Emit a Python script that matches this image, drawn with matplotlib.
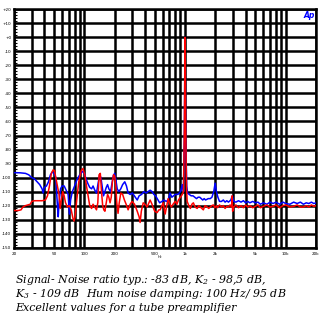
import matplotlib
matplotlib.use("Agg")
import matplotlib.pyplot as plt
from matplotlib.ticker import FixedLocator, MultipleLocator, NullFormatter

plt.rcParams['mathtext.fontset'] = 'custom'
plt.rcParams['mathtext.it'] = 'DejaVu Serif:italic'
plt.rcParams['mathtext.rm'] = 'DejaVu Serif:italic'
plt.rcParams['mathtext.default'] = 'it'

# ---- data ----
blue_f = [20, 23, 26, 28, 30, 32, 34, 36, 38, 39, 40, 42, 44, 46, 48, 50, 52, 54, 55, 56,
          58, 60, 63, 66, 69, 71, 73, 76, 80, 85, 90, 96, 100, 104, 108, 113, 118, 122, 127,
          132, 137, 142, 146, 150, 155, 160, 165, 170, 175, 182, 188, 194, 200, 206, 212,
          220, 230, 240, 252, 262, 272, 285, 300, 320, 335, 350, 370, 390, 410, 430, 450,
          470, 490, 510, 530, 560, 590, 620, 650, 680, 710, 740, 770, 800, 850, 900, 940,
          965, 985, 995, 1000, 1005, 1015, 1040, 1060, 1100, 1150, 1200, 1250, 1300, 1350,
          1400, 1450, 1500, 1550, 1600, 1700, 1780, 1850, 1930, 1990, 2050, 2120, 2200,
          2300, 2400, 2500, 2600, 2700, 2850, 2950, 3050, 3200, 3400, 3600, 3800, 4000,
          4200, 4400, 4700, 5000, 5300, 5600, 6000, 6500, 7000, 7500, 8000, 8700, 9400,
          10000, 11000, 12000, 13000, 14000, 15000, 16000, 17000, 18000, 19000, 20000]
blue_db = [-96.5, -96.6, -97, -98, -100, -101, -103, -105, -108, -111, -107, -106, -103, -98,
           -96, -97, -100, -120, -128, -118, -108, -106, -106, -109, -112, -126, -116, -110,
           -106, -101, -98, -95.5, -97, -101, -104, -107, -108, -106, -109, -111, -104, -98,
           -100, -106, -113, -110, -107, -105, -108, -110, -104, -98.5, -97, -102, -108,
           -110, -108, -105, -103, -106, -111, -112, -111, -114, -116, -113, -112, -110,
           -111, -110, -109, -110, -112, -113, -115, -118, -117, -116, -117, -116, -111,
           -114, -113, -112, -112, -110, -105, -110, -70, -20, 0, -20, -70, -106, -111,
           -112, -113, -113, -114, -115, -114, -114, -115, -116, -115, -116, -115, -115,
           -114, -110, -104, -110, -114, -117, -117, -116, -117.5, -116.5, -117.5, -116, -113,
           -117, -117.5, -116.5, -117.5, -116.5, -118, -117, -118, -117, -118, -117.5, -119,
           -118, -119, -117.5, -118.5, -117.5, -119, -117.5, -118.5, -119, -117.5, -118.5,
           -117.5, -119, -118, -118.5, -117.5, -118.5, -118]

red_f = [20, 22, 23.5, 24.5, 26, 27.5, 29, 30, 32, 35, 38, 41, 43, 45, 47, 49, 50.5, 52, 54,
         56, 57.5, 59, 61, 63, 65, 68, 71, 74, 77, 79, 81, 84, 88, 93, 97, 101, 105, 109,
         113, 118, 122, 127, 132, 136, 140, 144, 148, 152, 156, 160, 165, 170, 175, 180,
         185, 190, 195, 200, 205, 210, 216, 222, 230, 240, 250, 260, 272, 285, 298, 315,
         335, 350, 358, 368, 384, 400, 420, 450, 470, 480, 500, 528, 550, 566, 590, 607,
         620, 635, 650, 680, 700, 730, 760, 800, 830, 860, 900, 940, 965, 985, 995, 1000,
         1005, 1015, 1035, 1050, 1090, 1130, 1170, 1210, 1260, 1320, 1370, 1420, 1470,
         1520, 1580, 1660, 1720, 1780, 1850, 1910, 1980, 2050, 2100, 2200, 2300, 2400,
         2500, 2600, 2700, 2800, 2900, 2940, 2970, 3050, 3200, 3400, 3600, 3800, 4000,
         4200, 4400, 4700, 5000, 5300, 5600, 6000, 6500, 7000, 7500, 8000, 8700, 9400,
         10000, 11000, 12000, 13000, 14000, 15000, 16000, 17000, 18000, 19000, 20000]
red_db = [-123.5, -123.5, -123, -121, -120, -119.5, -119, -117, -116.5, -116.5, -116.5, -116,
          -113, -106, -97, -94.5, -95, -100, -106, -112, -122, -116, -110, -113, -118, -121,
          -120, -123, -129, -131, -128, -116, -103, -95, -93.5, -98, -106, -113, -120, -122,
          -119, -121, -123, -118, -98, -97, -110, -120, -123, -124, -118, -112, -114, -118,
          -114, -103, -98, -99, -106, -118, -125.5, -118, -111, -112, -116, -119, -123,
          -119, -117, -119, -124, -128, -132, -124, -118, -119, -121, -116, -119, -121,
          -124, -125, -123, -123, -120, -118, -122, -126, -122, -115, -118, -121, -119,
          -117, -119, -116, -114, -112, -110, -65, -15, 0, -15, -65, -108, -117, -120, -122,
          -119, -118, -121, -122, -120, -121, -122, -123, -120, -121, -122, -121, -120,
          -119.5, -121.5, -120, -121.5, -119.5, -121, -120, -122, -120.5, -121, -119.5, -121,
          -113, -124, -121, -119.5, -121.5, -120, -121.5, -119.5, -121, -120, -121.5, -120.5,
          -119.5, -121.5, -120.5, -119.5, -121, -120.5, -119.5, -121.5, -120, -119.5, -121,
          -120.5, -119.5, -121, -121, -120, -121, -119.5, -120.5, -120]

x_ticks = [20, 50, 100, 200, 500, 1000, 2000, 5000, 10000, 20000]
x_tick_labels = ["20", "50", "100", "200", "500", "1k", "2k", "5k", "10k", "20k"]
y_ticks = list(range(20, -151, -10))
y_tick_labels = ["+20", "+10", "+0"] + [str(v) for v in range(-10, -151, -10)]

caption_lines = [
    "Signal- Noise ratio typ.: -83 dB, K$_2$ - 98,5 dB,",
    "K$_3$ - 109 dB  Hum noise damping: 100 Hz/ 95 dB",
    "Excellent values for a tube preamplifier",
]

# ---- figure ----
W, H = 323, 321
fig = plt.figure(figsize=(W / 100, H / 100), dpi=100)
fig.patch.set_facecolor("white")
left, right, top, bottom = 14, 316, 9.3, 247.7
ax = fig.add_axes([left / W, 1 - bottom / H, (right - left) / W, (bottom - top) / H])

ax.set_xscale("log")
ax.set_xlim(20, 20000)
ax.set_ylim(-150, 20)

# grid lines
grid_x = [m * 10 ** e for e in range(1, 5) for m in range(1, 10)]
grid_x = [g for g in grid_x if 20 <= g <= 20000]
for g in grid_x:
    ax.axvline(g, color="black", lw=1.8, zorder=1)
for v in y_ticks:
    ax.axhline(v, color="black", lw=1.8, zorder=1)

ax.plot(blue_f, blue_db, color="#0000ff", lw=1.1, zorder=3)
ax.plot(red_f, red_db, color="#ff0000", lw=1.1, zorder=4)

for s in ax.spines.values():
    s.set_linewidth(1.8)
    s.set_color("black")

ax.xaxis.set_major_locator(FixedLocator(x_ticks))
ax.set_xticklabels(x_tick_labels)
ax.xaxis.set_minor_locator(FixedLocator([]))
ax.xaxis.set_minor_formatter(NullFormatter())
ax.tick_params(axis="x", which="both", length=0, labelsize=3, pad=3)

ax.set_yticks(y_ticks)
ax.set_yticklabels(y_tick_labels)
ax.yaxis.set_minor_locator(MultipleLocator(2))
ax.tick_params(axis="y", which="major", length=0, labelsize=3, pad=2)
ax.tick_params(axis="y", which="minor", direction="in", length=2, width=0.8)

fig.text(160 / W, 1 - 257 / H, "Hz", fontsize=2.5, ha="center", va="center")
fig.text(315 / W, 1 - 15 / H, "Ap", fontsize=5.5, color="#0000ff", fontweight="bold",
         fontstyle="italic", ha="right", va="center")

ys = [283, 297, 311]
for line, yy in zip(caption_lines, ys):
    fig.text(15 / W, 1 - yy / H, line, fontsize=7.9, family="DejaVu Serif",
             style="italic", ha="left", va="baseline")

fig.savefig("out.png", dpi=100, facecolor="white")
